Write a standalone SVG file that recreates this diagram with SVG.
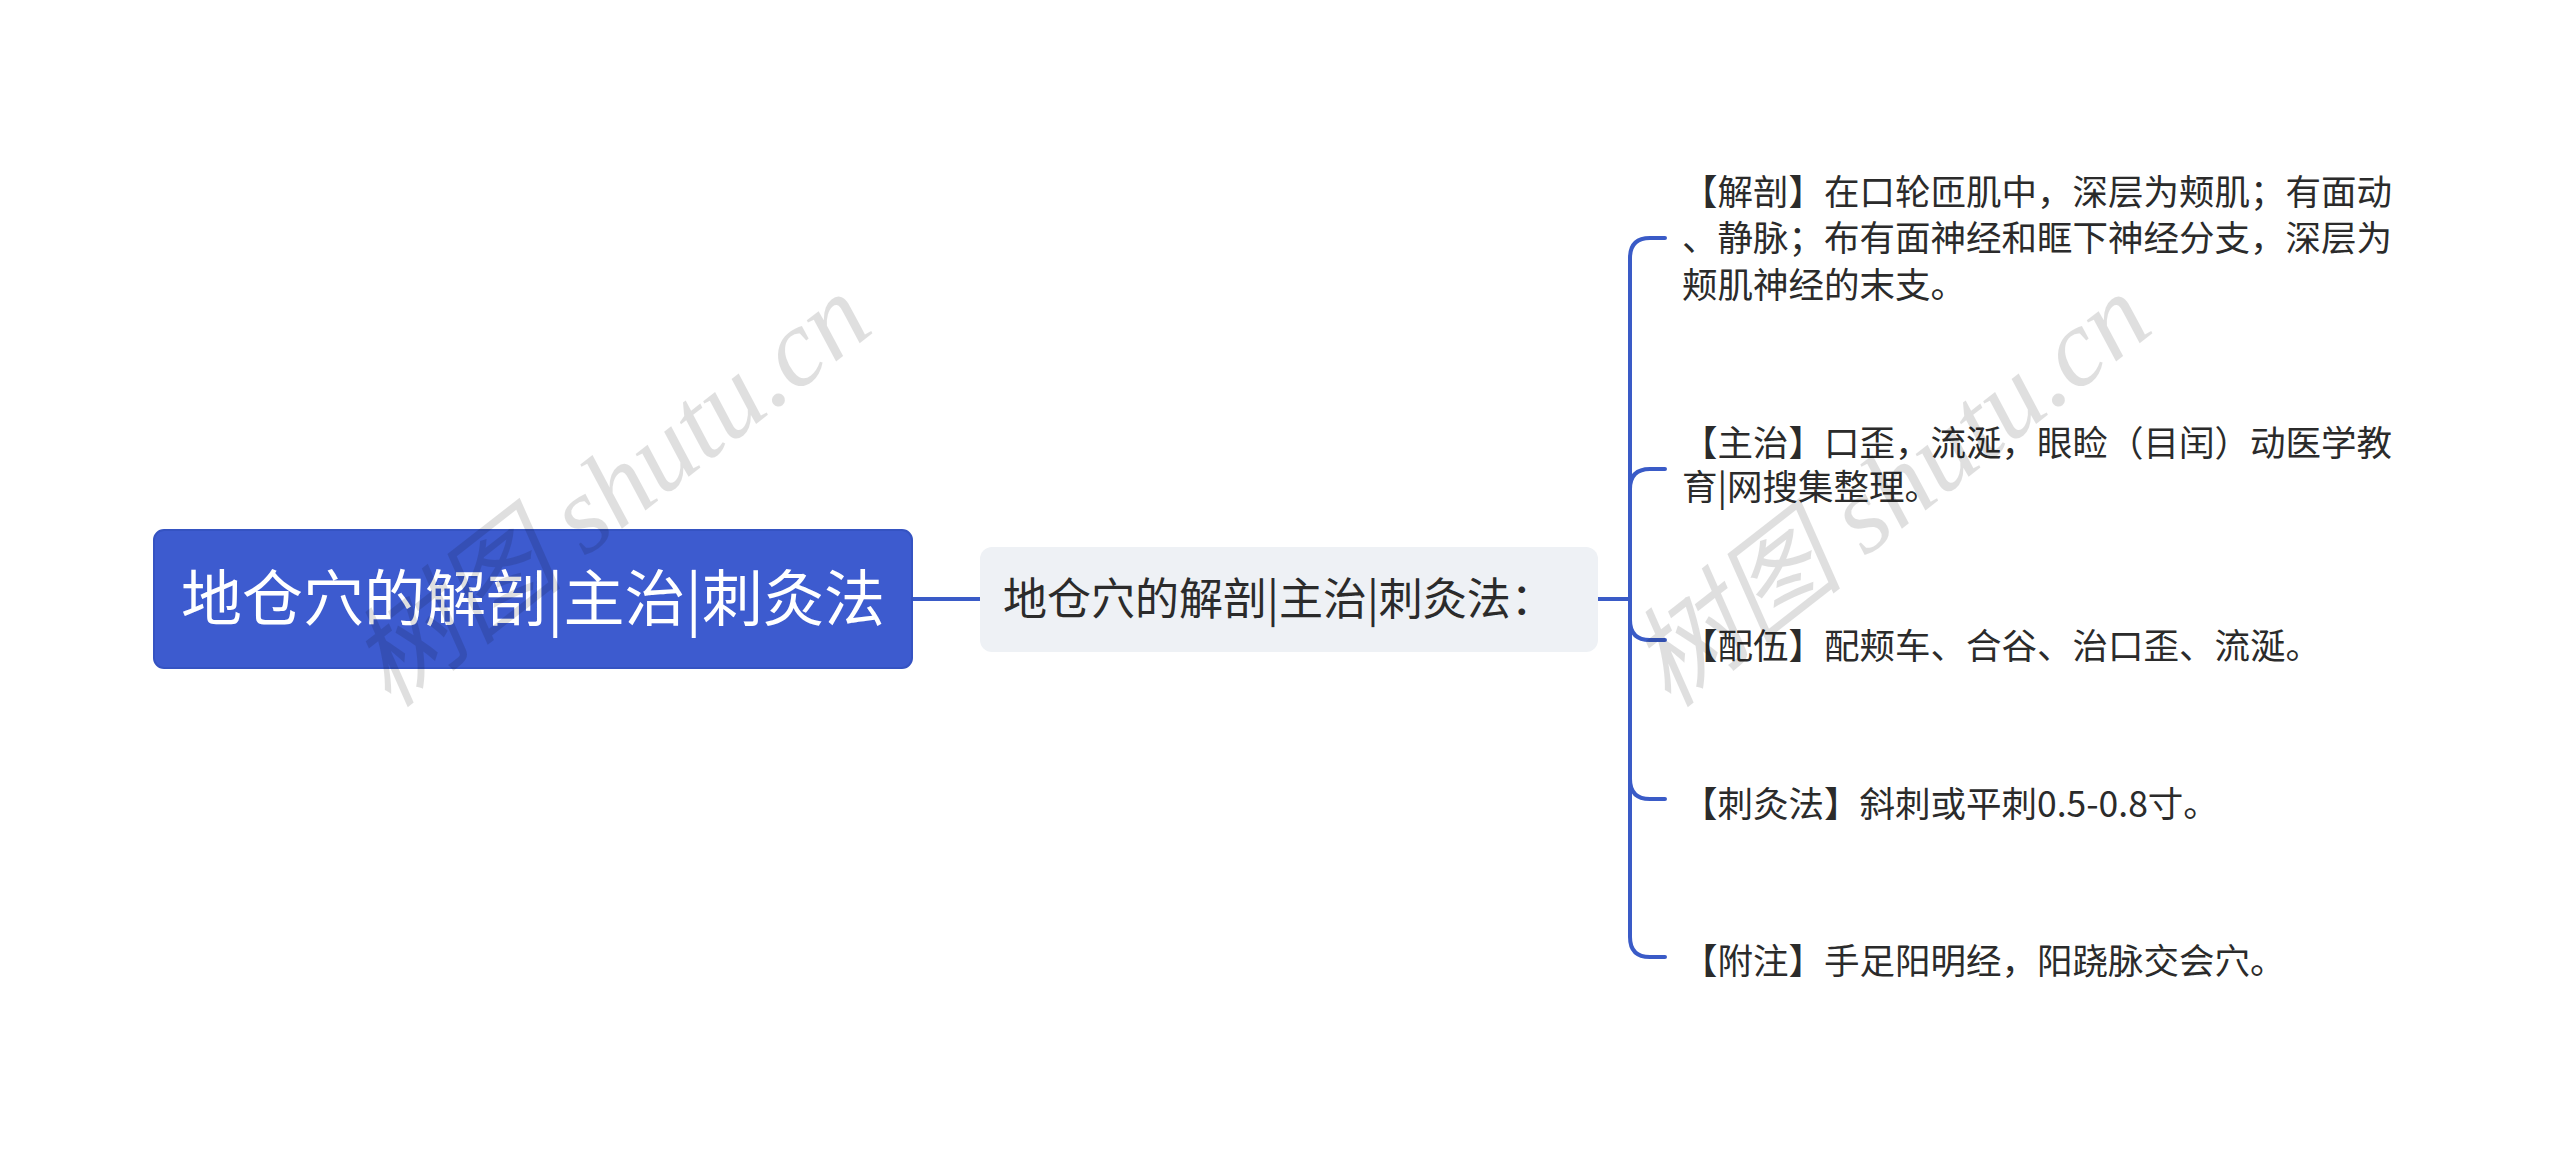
<svg xmlns="http://www.w3.org/2000/svg" width="2560" height="1150" viewBox="0 0 2560 1150">
<style>
.c{fill:none;stroke:#3a5bc7;stroke-width:4;stroke-linecap:round}
.t{font-family:"Noto Sans CJK SC","Noto Sans",sans-serif;fill:#2b2b2b}
.l{font-size:35.5px}
.wm{font-family:"Liberation Serif","Noto Sans CJK SC",serif;font-size:110px;fill:#000;opacity:0.12;font-style:italic}
</style>
<rect width="2560" height="1150" fill="#fff"/>
<g id="connectors">
<path class="c" d="M912 599H980"/>
<path class="c" d="M1598 599H1630"/>
<path class="c" d="M1630 599V258Q1630 238 1650 238H1665"/>
<path class="c" d="M1630 599V489Q1630 469 1650 469H1665"/>
<path class="c" d="M1630 599V620Q1630 640 1650 640H1665"/>
<path class="c" d="M1630 599V779Q1630 799 1650 799H1665"/>
<path class="c" d="M1630 599V937Q1630 957 1650 957H1665"/>
</g>
<g id="root"><rect x="154" y="530" width="758" height="138" rx="10" fill="#3d5bcf" stroke="#3553c2" stroke-width="2"/>
<text class="t" x="533" y="621" font-size="61" text-anchor="middle" style="fill:#fff">地仓穴的解剖|主治|刺灸法</text></g>
<g id="sub"><rect x="980" y="547" width="618" height="105" rx="12" fill="#eef1f5"/>
<text class="t" x="1003" y="615" font-size="44">地仓穴的解剖|主治|刺灸法：</text></g>
<g id="leaf1"><text class="t l" x="1682" y="205">【解剖】在口轮匝肌中，深层为颊肌；有面动</text>
<text class="t l" x="1682" y="251">、静脉；布有面神经和眶下神经分支，深层为</text>
<text class="t l" x="1682" y="298">颊肌神经的末支。</text></g>
<g id="leaf2"><text class="t l" x="1682" y="456">【主治】口歪，流涎，眼睑（目闰）动医学教</text>
<text class="t l" x="1682" y="500">育|网搜集整理。</text></g>
<g id="leaf3"><text class="t l" x="1682" y="659">【配伍】配颊车、合谷、治口歪、流涎。</text></g>
<g id="leaf4"><text class="t l" x="1682" y="817">【刺灸法】斜刺或平刺0.5-0.8寸。</text></g>
<g id="leaf5"><text class="t l" x="1682" y="974">【附注】手足阳明经，阳跷脉交会穴。</text></g>
<text class="wm" transform="translate(390 710) rotate(-38)">树图 shutu.cn</text>
<text class="wm" transform="translate(1670 710) rotate(-38)">树图 shutu.cn</text>
</svg>
